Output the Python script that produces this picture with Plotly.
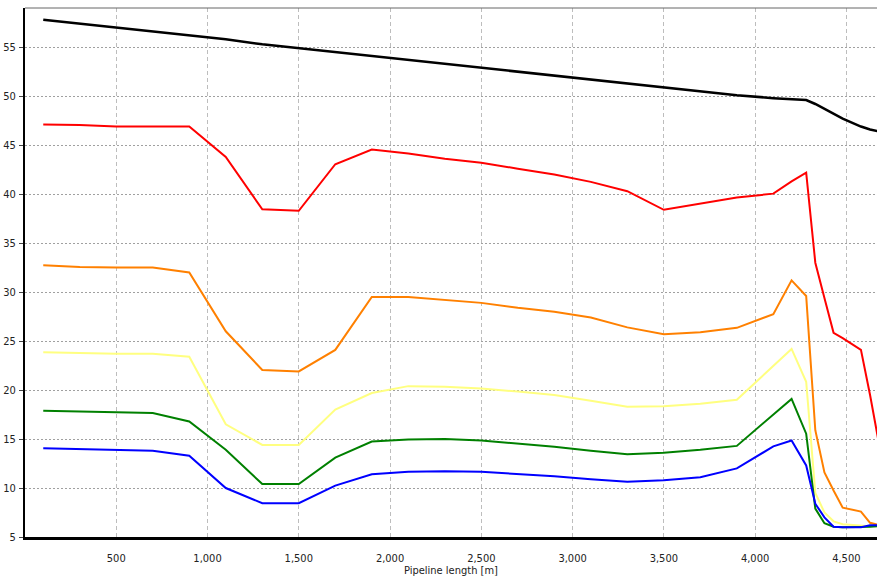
import plotly.graph_objects as go

# Distance along the pipeline [m]
distance_m = [100, 300, 500, 700, 900, 1100, 1300, 1500, 1700, 1900,
              2100, 2300, 2500, 2700, 2900, 3100, 3300, 3500, 3700, 3900,
              4100, 4200, 4280, 4330, 4380, 4430, 4480, 4580, 4630, 4680]

black_vals = [57.8, 57.4, 57.0, 56.6, 56.2, 55.8, 55.3, 54.9, 54.5, 54.1,
              53.7, 53.3, 52.9, 52.5, 52.1, 51.7, 51.3, 50.9, 50.5, 50.1,
              49.8, 49.65, 49.6, 49.2, 48.7, 48.2, 47.7, 46.9, 46.6, 46.4]

red_vals = [47.1, 47.05, 46.9, 46.9, 46.9, 43.8, 38.45, 38.3, 43.05, 44.55,
            44.15, 43.6, 43.2, 42.6, 42.0, 41.25, 40.3, 38.4, 39.05, 39.65,
            40.05, 41.3, 42.2, 33.0, 29.4, 25.85, 25.3, 24.1, 19.5, 14.4]

orange_vals = [32.75, 32.55, 32.5, 32.5, 32.0, 26.0, 22.05, 21.9, 24.1, 29.5,
               29.5, 29.2, 28.9, 28.4, 28.0, 27.4, 26.4, 25.7, 25.9, 26.35,
               27.75, 31.2, 29.6, 15.9, 11.6, 9.75, 8.0, 7.6, 6.45, 6.2]

yellow_vals = [23.85, 23.75, 23.7, 23.7, 23.4, 16.5, 14.4, 14.4, 18.0, 19.7,
               20.4, 20.35, 20.15, 19.85, 19.5, 18.9, 18.3, 18.35, 18.6, 19.0,
               22.4, 24.2, 20.85, 9.5, 7.5, 6.6, 6.3, 6.15, 6.1, 6.1]

green_vals = [17.9, 17.8, 17.75, 17.65, 16.8, 13.9, 10.4, 10.4, 13.1, 14.75,
              14.95, 15.0, 14.85, 14.55, 14.2, 13.8, 13.45, 13.6, 13.9, 14.3,
              17.55, 19.1, 15.55, 7.9, 6.4, 6.05, 6.0, 6.0, 6.05, 6.1]

blue_vals = [14.05, 13.95, 13.9, 13.8, 13.3, 10.0, 8.45, 8.45, 10.25, 11.4,
             11.65, 11.7, 11.65, 11.45, 11.2, 10.9, 10.65, 10.8, 11.1, 12.0,
             14.25, 14.85, 12.3, 8.4, 7.0, 6.05, 6.0, 6.0, 6.2, 6.2]

x_ticks = [500, 1000, 1500, 2000, 2500, 3000, 3500, 4000, 4500]
y_ticks = [5, 10, 15, 20, 25, 30, 35, 40, 45, 50, 55]

series = [
    (black_vals, "#000000", 2.5),
    (red_vals, "#ff0000", 2),
    (orange_vals, "#ff8000", 2),
    (yellow_vals, "#ffff80", 2),
    (green_vals, "#008000", 2),
    (blue_vals, "#0000ff", 2),
]

fig = go.Figure()
for vals, color, width in series:
    fig.add_trace(go.Scatter(x=distance_m, y=vals, mode="lines",
                             line=dict(color=color, width=width),
                             showlegend=False, hoverinfo="x+y"))

tick_font = dict(family="Liberation Sans Narrow, DejaVu Sans Condensed, sans-serif",
                 size=11, color="#222222")

fig.update_layout(
    width=877, height=576,
    margin=dict(l=25, r=0, t=8, b=39),
    paper_bgcolor="white", plot_bgcolor="white",
    showlegend=False,
    xaxis=dict(range=[0, 4668], tickvals=x_ticks, tickformat=",d",
               showgrid=True, gridcolor="#bdbdbd", griddash="4px,3px", gridwidth=1,
               showline=True, linecolor="#000000", linewidth=3,
               ticks="", ticklabelstandoff=9, tickfont=tick_font,
               zeroline=False),
    yaxis=dict(range=[5, 59], tickvals=y_ticks,
               showgrid=True, gridcolor="#a0a0a0", griddash="2px,2px", gridwidth=1,
               showline=True, linecolor="#000000", linewidth=2,
               ticks="outside", ticklen=4, tickcolor="#444444",
               ticklabelstandoff=1, tickfont=tick_font,
               zeroline=False),
    shapes=[dict(type="line", xref="paper", yref="paper", x0=0, x1=1, y0=1, y1=1,
                 line=dict(color="#666666", width=1))],
    annotations=[dict(text="Pipeline length [m]", xref="paper", yref="paper",
                      x=0.5, y=-33 / 529, yanchor="middle", showarrow=False,
                      font=tick_font)],
)

fig.write_html("out.html")
